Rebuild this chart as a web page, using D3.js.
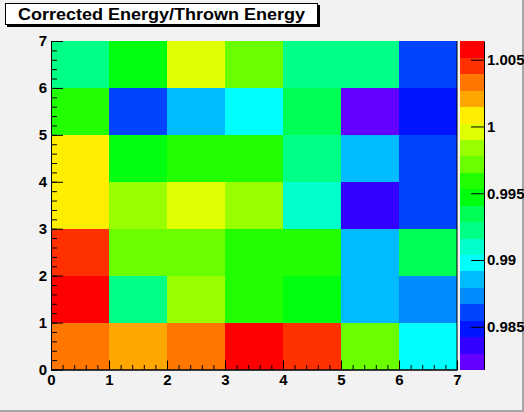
<!DOCTYPE html>
<meta charset="utf-8">
<style>
	body { margin: 0; background: #f2f2f2; }
	svg text { font-family: "Liberation Sans", Arial, Helvetica, sans-serif; font-weight: bold; }
	.axis .domain { stroke: #000; }
	.axis line { stroke: #000; }
</style>

<div id="chartBx"></div>

<script src="https://cdn.jsdelivr.net/npm/d3@7/dist/d3.min.js"></script>
<script>

	// bin edges (x, y)
	var xBins = [0, 1, 2, 3, 4, 5, 6];
	var yBins = [0, 1, 2, 3, 4, 5, 6];

	// Corrected / Thrown energy, one array per y row (x = 0..6)
	var row_y0 = [1.0033, 1.0021, 1.0032, 1.0064, 1.0045, 0.9972, 0.9898];
	var row_y1 = [1.0057, 0.9922, 0.9984, 0.9959, 0.9947, 0.9886, 0.9873];
	var row_y2 = [1.0046, 0.9971, 0.9972, 0.9960, 0.9958, 0.9885, 0.9935];
	var row_y3 = [1.0008, 0.9983, 0.9996, 0.9985, 0.9910, 0.9837, 0.9861];
	var row_y4 = [1.0009, 0.9947, 0.9959, 0.9960, 0.9922, 0.9886, 0.9860];
	var row_y5 = [0.9960, 0.9861, 0.9885, 0.9898, 0.9934, 0.9818, 0.9849];
	var row_y6 = [0.9923, 0.9947, 0.9996, 0.9971, 0.9922, 0.9921, 0.9861];

	var xTicks = [0, 1, 2, 3, 4, 5, 6, 7];
	var yTicks = [0, 1, 2, 3, 4, 5, 6, 7];
	var zTicks = [0.985, 0.99, 0.995, 1, 1.005];

	var chartTitle = "Corrected Energy/Thrown Energy";

	makeColz("chartBx", 524, 412);

	function makeColz(div_id, pWidth, pHeight) {

		var rows = [row_y0, row_y1, row_y2, row_y3, row_y4, row_y5, row_y6];

		var cells = [];
		rows.forEach(function(r, j) {
			r.forEach(function(v, i) {
				cells.push({x: xBins[i], y: yBins[j], value: v});
			});
		});

		// frame / palette positions
		var frame = {left: 51, right: 457, top: 41, bottom: 369.5};
		var pal = {left: 460, right: 484};

		var svg = d3.select("#" + div_id).append("svg")
			.attr("width", pWidth)
			.attr("height", pHeight);

		// canvas background + bevel
		svg.append("rect").attr("width", pWidth).attr("height", pHeight).attr("fill", "#f2f2f2");
		svg.append("rect").attr("x", pWidth - 2).attr("y", 0).attr("width", 2).attr("height", pHeight).attr("fill", "#a6a6a6");
		svg.append("rect").attr("x", 0).attr("y", pHeight - 2).attr("width", pWidth).attr("height", 2).attr("fill", "#a6a6a6");

		// scales
		var x = d3.scaleLinear().domain([0, 7]).range([frame.left, frame.right]);
		var y = d3.scaleLinear().domain([0, 7]).range([frame.bottom, frame.top]);

		var zExt = d3.extent(cells, function(d) { return d.value; });
		var z = d3.scaleLinear().domain(zExt).range([frame.bottom, frame.top]);

		// ROOT "pretty" palette, 20 contour levels
		var nLevels = 20;
		var levelColor = function(k) {
			var idx = Math.floor((k + 0.99) * 50 / nLevels);
			var hue = 280 - (idx + 1) * 5.6;
			return d3.hsl(hue, 1, 0.5).formatHex();
		};
		var colorOf = function(v) {
			var k = Math.floor((v - zExt[0]) / (zExt[1] - zExt[0]) * nLevels);
			return levelColor(Math.max(0, Math.min(nLevels - 1, k)));
		};

		// cells
		svg.append("g").attr("class", "cells")
			.selectAll("rect")
			.data(cells)
			.enter().append("rect")
				.attr("x", function(d) { return x(d.x); })
				.attr("y", function(d) { return y(d.y + 1); })
				.attr("width", function(d) { return x(d.x + 1) - x(d.x); })
				.attr("height", function(d) { return y(d.y) - y(d.y + 1); })
				.attr("fill", function(d) { return colorOf(d.value); })
				.attr("shape-rendering", "crispEdges");

		// frame right line
		svg.append("line")
			.attr("x1", frame.right).attr("x2", frame.right)
			.attr("y1", frame.top).attr("y2", frame.bottom)
			.attr("stroke", "#000");

		// x axis (minor then major)
		var xMinor = d3.range(0, 7.001, 0.2);
		svg.append("g")
			.attr("class", "axis")
			.attr("transform", "translate(0," + frame.bottom + ")")
			.call(d3.axisBottom(x).tickValues(xMinor).tickSize(-4.5).tickSizeOuter(0).tickFormat(""));
		svg.append("g")
			.attr("class", "axis xAxis")
			.attr("transform", "translate(0," + frame.bottom + ")")
			.call(d3.axisBottom(x).tickValues(xTicks).tickSize(-9).tickSizeOuter(0).tickPadding(5).tickFormat(d3.format("d")))
			.selectAll("text")
				.attr("font-size", 15)
				.attr("fill", "#000");

		// y axis
		var yMinor = d3.range(0, 7.001, 0.2);
		svg.append("g")
			.attr("class", "axis")
			.attr("transform", "translate(" + frame.left + ",0)")
			.call(d3.axisLeft(y).tickValues(yMinor).tickSize(-6).tickSizeOuter(0).tickFormat(""));
		svg.append("g")
			.attr("class", "axis yAxis")
			.attr("transform", "translate(" + frame.left + ",0)")
			.call(d3.axisLeft(y).tickValues(yTicks).tickSize(-12).tickSizeOuter(0).tickPadding(4).tickFormat(d3.format("d")))
			.selectAll("text")
				.attr("font-size", 15)
				.attr("fill", "#000");

		// palette
		var levelH = (frame.bottom - frame.top) / nLevels;
		svg.append("g").attr("class", "palette")
			.selectAll("rect")
			.data(d3.range(nLevels))
			.enter().append("rect")
				.attr("x", pal.left)
				.attr("y", function(k) { return frame.bottom - (k + 1) * levelH; })
				.attr("width", pal.right - pal.left)
				.attr("height", levelH + 0.5)
				.attr("fill", function(k) { return levelColor(k); })
				.attr("shape-rendering", "crispEdges");

		svg.append("g")
			.attr("class", "axis zAxis")
			.attr("transform", "translate(" + pal.right + ",0)")
			.call(d3.axisRight(z).tickValues(zTicks).tickSize(-13).tickSizeOuter(0).tickPadding(3)
				.tickFormat(function(d) { return String(+d.toFixed(3)); }))
			.selectAll("text")
				.attr("font-size", 15)
				.attr("fill", "#000");

		svg.selectAll(".axis").attr("font-family", null).attr("font-size", null);

		// title box
		var title = svg.append("g").attr("class", "title");
		title.append("rect")
			.attr("x", 7).attr("y", 5).attr("width", 313).attr("height", 22)
			.attr("fill", "#000");
		title.append("rect")
			.attr("x", 5.5).attr("y", 3.5).attr("width", 312).attr("height", 21)
			.attr("fill", "#fff").attr("stroke", "#000");
		title.append("text")
			.attr("x", 18).attr("y", 19.5)
			.attr("font-size", 17)
			.attr("textLength", 287)
			.attr("lengthAdjust", "spacingAndGlyphs")
			.attr("fill", "#000")
			.text(chartTitle);
	}

</script>
